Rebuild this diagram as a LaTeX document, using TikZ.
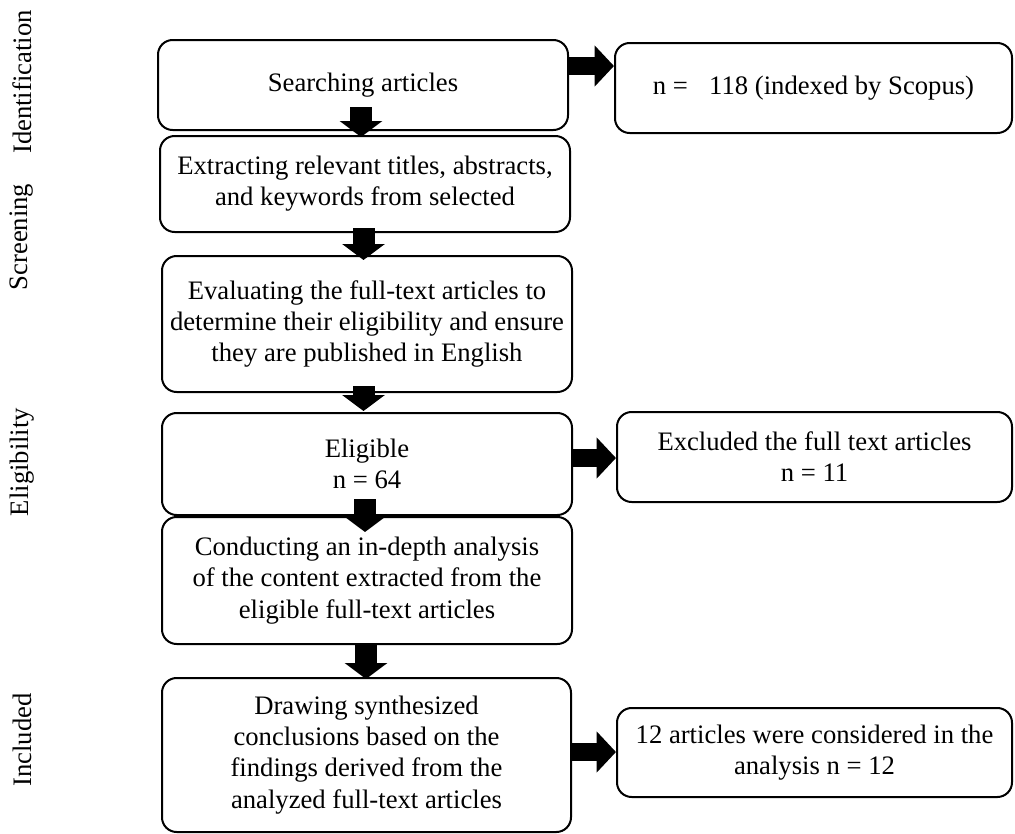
\documentclass[tikz,border=0pt]{standalone}
\usepackage{fontspec}
\setmainfont{Liberation Serif}
\usetikzlibrary{arrows.meta,calc}
\begin{document}
\begin{tikzpicture}[x=0.75pt,y=-0.75pt,
  box/.style={draw,line width=1.5pt,rounded corners=11pt,align=center,inner sep=0pt,
    font=\fontsize{20pt}{23.4pt}\selectfont},
  mainbox/.style={box,minimum width=307.5pt},
  sidebox/.style={box,minimum width=296.25pt},
  darrow/.style={line width=16.5pt,-{Triangle[length=12pt,width=31.5pt]}},
  rarrow/.style={line width=14pt,-{Triangle[length=14.5pt,width=30pt]}},
  phase/.style={rotate=90,font=\fontsize{20pt}{23.4pt}\selectfont,inner sep=0pt}]
\useasboundingbox (0,0) rectangle (1015,833);
% boxes
\node[mainbox,minimum height=67.5pt] (b1) at (363,85) {\raisebox{-3pt}{Searching articles}};
\node[sidebox,minimum width=297.75pt,minimum height=67.5pt] (r1) at (813.5,88) {n = \hspace{11pt}118 (indexed by Scopus)};
\node[mainbox,minimum height=72pt] (b2) at (365,184) {Extracting relevant titles, abstracts,\\and keywords from selected};
\node[mainbox,minimum height=102pt] (b3) at (367,324) {Evaluating the full-text articles to\\determine their eligibility and ensure\\they are published in English};
\node[mainbox,minimum height=76.5pt] (b4) at (367,464) {Eligible\\n = 64};
\node[sidebox,minimum height=67.5pt] (r2) at (814.5,457) {Excluded the full text articles\\n = 11};
\node[mainbox,minimum height=95.25pt] (b5) at (367,580.5) {Conducting an in-depth analysis\\of the content extracted from the\\eligible full-text articles};
\node[mainbox,minimum width=306.75pt,minimum height=115.5pt] (b6) at (366.5,755) {Drawing synthesized\\conclusions based on the\\findings derived from the\\analyzed full-text articles};
\node[sidebox,minimum height=66.75pt] (r3) at (814.5,752.5) {12 articles were considered in the\\analysis n = 12};
% phase labels
\node[phase] (p1) at (22,82) {Identification};
\node[phase] (p2) at (22,237) {Screening};
\node[phase] (p3) at (22,462) {Eligibility};
\node[phase] (p4) at (22,740) {Included};
% arrows
\draw[darrow] ($(b1.south)+(-2,-24)$) -- ($(b2.north)+(-4,2)$);
\draw[darrow] ($(b2.south)+(-1.5,-5)$) -- ($(b3.north)+(-3.5,5)$);
\draw[darrow] ($(b3.south)+(-3.5,-7)$) -- ($(b4.north)+(-3.5,-1)$);
\draw[darrow] ($(b4.south)+(-2,-17)$) -- ($(b5.north)+(-2,16)$);
\draw[darrow] ($(b5.south)+(-1,0)$) -- ($(b6.north)+(-0.5,2)$);
\draw[rarrow] ($(b1.east)+(0,-19)$) -- ($(r1.west)+(0,-22)$);
\draw[rarrow] ($(b4.east)+(0,-6)$) -- ($(r2.west)+(0,1)$);
\draw[rarrow] ($(b6.east)+(0,-3)$) -- ($(r3.west)+(0,-0.5)$);
\end{tikzpicture}
\end{document}
